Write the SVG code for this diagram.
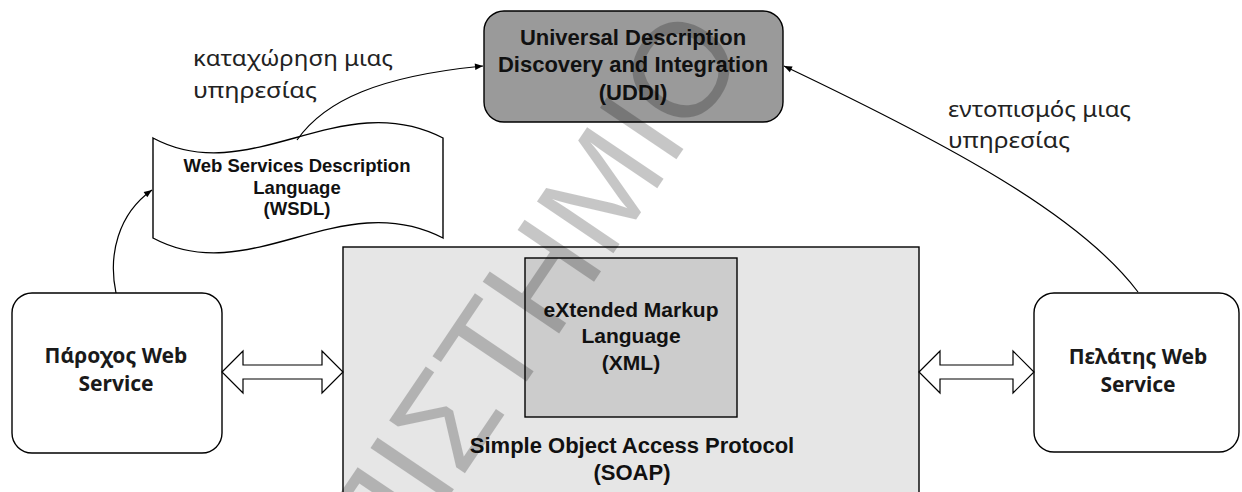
<svg xmlns="http://www.w3.org/2000/svg" width="1242" height="492" viewBox="0 0 1242 492">
  <style>
    .box { stroke: #000; stroke-width: 1.4; }
    .bold { font-family: "Liberation Sans", Arial, sans-serif; font-weight: bold; text-anchor: middle; fill: #111; }
    .greek-b { font-family: "Noto Sans", "DejaVu Sans", sans-serif; font-weight: bold; text-anchor: middle; fill: #1a1a1a; font-size: 21px; }
    .label { font-family: "Noto Sans", "DejaVu Sans", sans-serif; font-size: 21px; fill: #222; }
    .link { fill: none; stroke: #000; stroke-width: 1.2; }
    .dbl { fill: #fff; stroke: #000; stroke-width: 1.2; stroke-linejoin: miter; }
    .mark { font-family: "Liberation Sans", Arial, sans-serif; font-size: 134px; fill: #000; }
  </style>
  <defs>
    <marker id="head" viewBox="0 0 10 10" refX="10" refY="5" markerWidth="9" markerHeight="8" markerUnits="userSpaceOnUse" orient="auto">
      <path d="M0,1 L10,5 L0,9 Z" fill="#000"/>
    </marker>
  </defs>

  <rect width="1242" height="492" fill="#fff"/>

  <!-- SOAP container -->
  <g id="soap">
    <rect class="box" x="343" y="247" width="576" height="262" fill="#e6e6e6"/>
    <text class="bold" font-size="22" x="632" y="453">Simple Object Access Protocol</text>
    <text class="bold" font-size="22" x="632" y="480">(SOAP)</text>
  </g>

  <!-- XML inside SOAP -->
  <g id="xml">
    <rect class="box" x="525" y="258" width="212" height="159" fill="#cccccc"/>
    <text class="bold" font-size="21" x="631" y="317">eXtended Markup</text>
    <text class="bold" font-size="21" x="631" y="343">Language</text>
    <text class="bold" font-size="21" x="631" y="370">(XML)</text>
  </g>

  <!-- UDDI registry -->
  <g id="uddi">
    <rect class="box" x="484" y="11" width="299" height="111" rx="20" ry="20" fill="#9a9a9a"/>
    <text class="bold" font-size="22" x="633" y="45">Universal Description</text>
    <text class="bold" font-size="22" x="633" y="72">Discovery and Integration</text>
    <text class="bold" font-size="22" x="633" y="100">(UDDI)</text>
  </g>

  <!-- WSDL document (punched-tape shape) -->
  <g id="wsdl">
    <path class="box" fill="#fff" d="M153,138 C250,190 340,85 443,138 L443,238 C340,185 250,290 153,238 Z"/>
    <text class="bold" font-size="18.5" x="297" y="172">Web Services Description</text>
    <text class="bold" font-size="18.5" x="297" y="194">Language</text>
    <text class="bold" font-size="18.5" x="297" y="215">(WSDL)</text>
  </g>

  <!-- service provider -->
  <g id="provider">
    <rect class="box" x="12" y="293" width="210" height="160" rx="20" ry="20" fill="#fff"/>
    <text class="greek-b" x="116" y="363">Πάροχος Web</text>
    <text class="greek-b" x="116" y="391">Service</text>
  </g>

  <!-- service client -->
  <g id="client">
    <rect class="box" x="1034" y="293" width="205" height="159" rx="20" ry="20" fill="#fff"/>
    <text class="greek-b" x="1138" y="364">Πελάτης Web</text>
    <text class="greek-b" x="1138" y="392">Service</text>
  </g>

  <!-- edge labels -->
  <g id="labels">
    <text class="label" x="193" y="66" textLength="200" lengthAdjust="spacingAndGlyphs">καταχώρηση μιας</text>
    <text class="label" x="193" y="98" textLength="124" lengthAdjust="spacingAndGlyphs">υπηρεσίας</text>
    <text class="label" x="948" y="117" textLength="183" lengthAdjust="spacingAndGlyphs">εντοπισμός μιας</text>
    <text class="label" x="948" y="148" textLength="122" lengthAdjust="spacingAndGlyphs">υπηρεσίας</text>
  </g>

  <!-- connectors -->
  <g id="connectors">
    <path class="link" d="M116,293 C108,255 118,214 152,190" marker-end="url(#head)"/>
    <path class="link" d="M297,140 C325,100 380,76 483,66" marker-end="url(#head)"/>
    <path class="link" d="M1138,292 C1080,215 950,145 784,66" stroke-width="1" marker-end="url(#head)"/>
    <path class="dbl" d="M222,372 L243,351 L243,365 L322,365 L322,351 L343,372 L322,393 L322,379 L243,379 L243,393 Z"/>
    <path class="dbl" d="M919,372 L940,351 L940,365 L1013,365 L1013,351 L1034,372 L1013,393 L1013,379 L940,379 L940,393 Z"/>
  </g>

  <!-- diagonal watermark -->
  <g opacity="0.22">
    <text class="mark" transform="translate(386,590) rotate(-56)">ΠΙΣΤΗΜΙΟ</text>
  </g>
</svg>
